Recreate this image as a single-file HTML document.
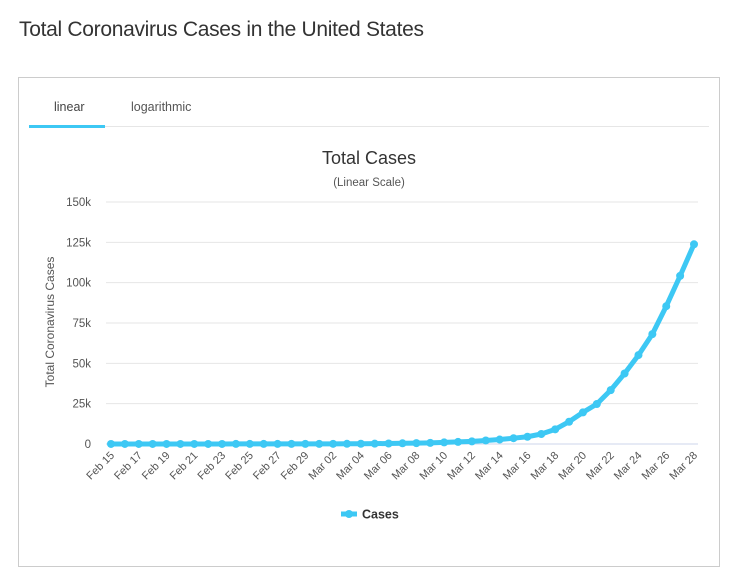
<!DOCTYPE html>
<html><head><meta charset="utf-8"><style>
body{margin:0;background:#fff;font-family:"Liberation Sans","DejaVu Sans",sans-serif;}
#wrap{position:relative;width:730px;height:584px;overflow:hidden;}
h1{position:absolute;left:19px;top:18px;margin:0;font-weight:normal;font-size:21px;color:#333;letter-spacing:-0.3px;}
#card{position:absolute;left:18px;top:77px;width:702px;height:490px;border:1px solid #ccc;box-sizing:border-box;}
.tab{position:absolute;top:22px;font-size:12.5px;color:#444;}
#divider{position:absolute;left:10px;right:10px;top:48px;height:1px;background:#e6e6e6;}
#under{position:absolute;left:10px;top:47px;width:76px;height:3px;background:#3dc8f4;}
svg{position:absolute;left:0;top:0;}
</style></head><body>
<div id="wrap">
<h1>Total Coronavirus Cases in the United States</h1>
<div id="card">
<div class="tab" style="left:35px">linear</div>
<div class="tab" style="left:112px;color:#555">logarithmic</div>
<div id="divider"></div>
<div id="under"></div>
</div>
<svg id="chart" width="730" height="584"></svg>
</div>
<script>
const categories=["Feb 15","Feb 16","Feb 17","Feb 18","Feb 19","Feb 20","Feb 21","Feb 22","Feb 23","Feb 24","Feb 25","Feb 26","Feb 27","Feb 28","Feb 29","Mar 01","Mar 02","Mar 03","Mar 04","Mar 05","Mar 06","Mar 07","Mar 08","Mar 09","Mar 10","Mar 11","Mar 12","Mar 13","Mar 14","Mar 15","Mar 16","Mar 17","Mar 18","Mar 19","Mar 20","Mar 21","Mar 22","Mar 23","Mar 24","Mar 25","Mar 26","Mar 27","Mar 28"];
const cases=[15,15,15,15,15,15,35,35,35,53,57,60,60,62,68,75,100,124,158,221,319,435,541,704,994,1301,1630,2183,2770,3600,4500,6200,9100,13800,19600,24800,33400,43700,55100,68100,85400,104200,123800];
const yTicks=[0,25000,50000,75000,100000,125000,150000];
const yTickLabels=["0","25k","50k","75k","100k","125k","150k"];
const NS="http://www.w3.org/2000/svg";
const svg=document.getElementById('chart');
const X0=111,X1=694,Y0=444,Y1=202,XL=106,XR=698;
const xs=i=>X0+(X1-X0)*i/(categories.length-1);
const ys=v=>Y0-(Y0-Y1)*v/150000;
function mk(t,a,txt){const e=document.createElementNS(NS,t);for(const k in a)e.setAttribute(k,a[k]);if(txt!==undefined)e.textContent=txt;svg.appendChild(e);return e;}
let e;
e=mk('text',{x:369,y:164,'text-anchor':'middle','font-size':18,fill:'#333'},'Total Cases');


e=mk('text',{x:369,y:186,'text-anchor':'middle','font-size':11.5,fill:'#555'},'(Linear Scale)');


e=mk('text',{x:0,y:0,'text-anchor':'middle','font-size':12,fill:'#555',transform:'translate(54,322) rotate(-90)'},'Total Coronavirus Cases');


yTicks.forEach((v,i)=>{
 e=mk('line',{x1:XL,x2:XR,y1:ys(v),y2:ys(v),stroke:i==0?'#ccd6eb':'#e6e6e6','stroke-width':1});
 
 
 e=mk('text',{x:91,y:ys(v)+4,'text-anchor':'end','font-size':11.5,fill:'#555'},yTickLabels[i]);
 
 
});
categories.forEach((c,i)=>{
 if(i%2)return;
 const x=xs(i)+4,y=456;
 e=mk('text',{x:x,y:y,'text-anchor':'end','font-size':11,fill:'#555',transform:`rotate(-45 ${x} ${y})`},c);
 
 
});
e=mk('polyline',{points:cases.map((v,i)=>xs(i)+','+ys(v)).join(' '),fill:'none',stroke:'#3dc8f4','stroke-width':5,'stroke-linejoin':'round','stroke-linecap':'round'});


cases.forEach((v,i)=>{
 e=mk('circle',{cx:xs(i),cy:ys(v),r:4,fill:'#3dc8f4'});
 
 
});
e=mk('line',{x1:341,x2:357,y1:514,y2:514,stroke:'#3dc8f4','stroke-width':5});


e=mk('circle',{cx:349,cy:514,r:4,fill:'#3dc8f4'});


e=mk('text',{x:362,y:518.5,'font-size':12.5,'font-weight':'bold',fill:'#333'},'Cases');


</script>
</body></html>
